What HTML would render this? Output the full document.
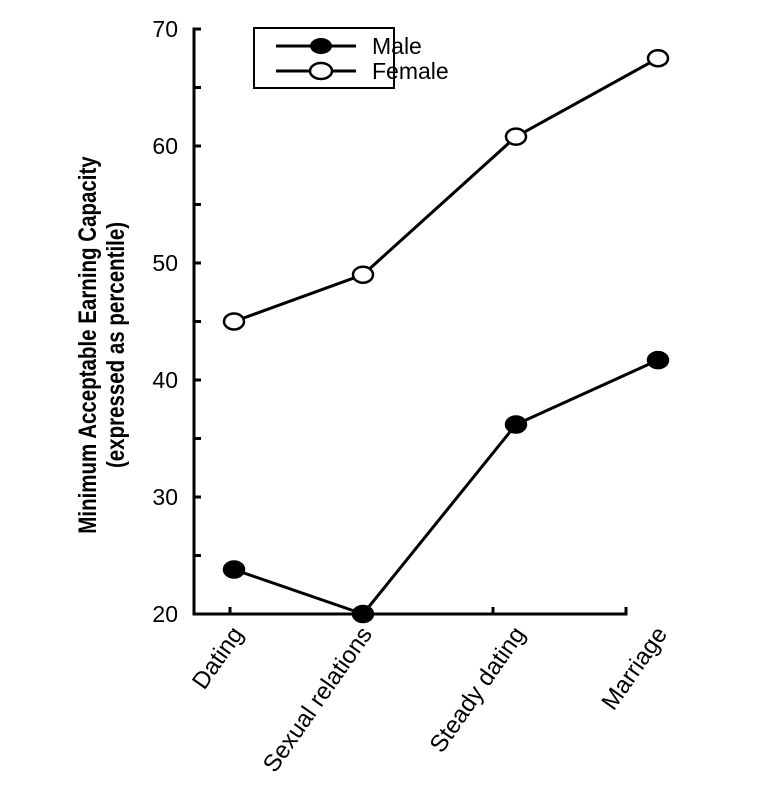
<!DOCTYPE html>
<html><head><meta charset="utf-8"><style>
body{margin:0;background:#fff}
svg text{font-family:"Liberation Sans",sans-serif;fill:#000}
</style></head><body>
<svg width="775" height="800" id="c">
<g id="g"></g>
<g>
<rect x="254" y="28" width="140" height="60" fill="#fff" stroke="#000" stroke-width="2"/>
<line x1="276" y1="46" x2="356" y2="46" stroke="#000" stroke-width="3"/>
<ellipse cx="321" cy="46" rx="11" ry="8" fill="#000"/>
<line x1="276" y1="71" x2="356" y2="71" stroke="#000" stroke-width="3"/>
<ellipse cx="321" cy="71" rx="11" ry="8" fill="#fff" stroke="#000" stroke-width="2.5"/>
<text x="372" y="54" font-size="23">Male</text>
<text x="372" y="79" font-size="23">Female</text>
</g>
<g transform="translate(100,345) rotate(-90) scale(0.82,1)">
<text x="0" y="-4" text-anchor="middle" font-size="25" font-weight="bold">Minimum Acceptable Earning Capacity</text>
<text x="0" y="24" text-anchor="middle" font-size="25" font-weight="bold">(expressed as percentile)</text>
</g>
</svg>
<script>
const categories=["Dating","Sexual relations","Steady dating","Marriage"];
const maleValues=[23.8,20,36.2,41.7];
const femaleValues=[45,49,60.8,67.5];
const yTicks=[20,30,40,50,60,70];
const catX=[234,363,516,658];
const NS="http://www.w3.org/2000/svg";
const g=document.getElementById('g');
function y(v){return 614-(v-20)*11.7;}
function x(i){return catX[i];}
function el(t,a,p){const e=document.createElementNS(NS,t);for(const k in a)e.setAttribute(k,a[k]);(p||g).appendChild(e);return e;}
let ax=el('path',{d:'M200,29 H194 V614 H626 V607',stroke:'#000','stroke-width':3,fill:'none'});


for(let v=20;v<=70;v+=5){let t=el('line',{x1:194,x2:201,y1:y(v),y2:y(v),stroke:'#000','stroke-width':3});

}
yTicks.forEach(v=>{let t=el('text',{x:178,y:y(v)+8,'text-anchor':'end','font-size':23});t.textContent=v;

});
[230,493].forEach(px=>{el('line',{x1:px,x2:px,y1:614,y2:607,stroke:'#000','stroke-width':3});});
categories.forEach((c,i)=>{let t=el('text',{transform:`translate(${x(i)+10},634) rotate(-55)`,'text-anchor':'end','font-size':24});t.textContent=c;

});
function series(vals,fill,name){
 let d=vals.map((v,i)=>(i?'L':'M')+x(i)+','+y(v)).join(' ');
 let p=el('path',{d:d,stroke:'#000','stroke-width':3,fill:'none'});
 
 
 vals.forEach((v,i)=>{let c=el('ellipse',{cx:x(i),cy:y(v),rx:10,ry:8,fill:fill,stroke:'#000','stroke-width':2.5});
 
 });
}
series(maleValues,'#000','male');
series(femaleValues,'#fff','female');
</script>
</body></html>
